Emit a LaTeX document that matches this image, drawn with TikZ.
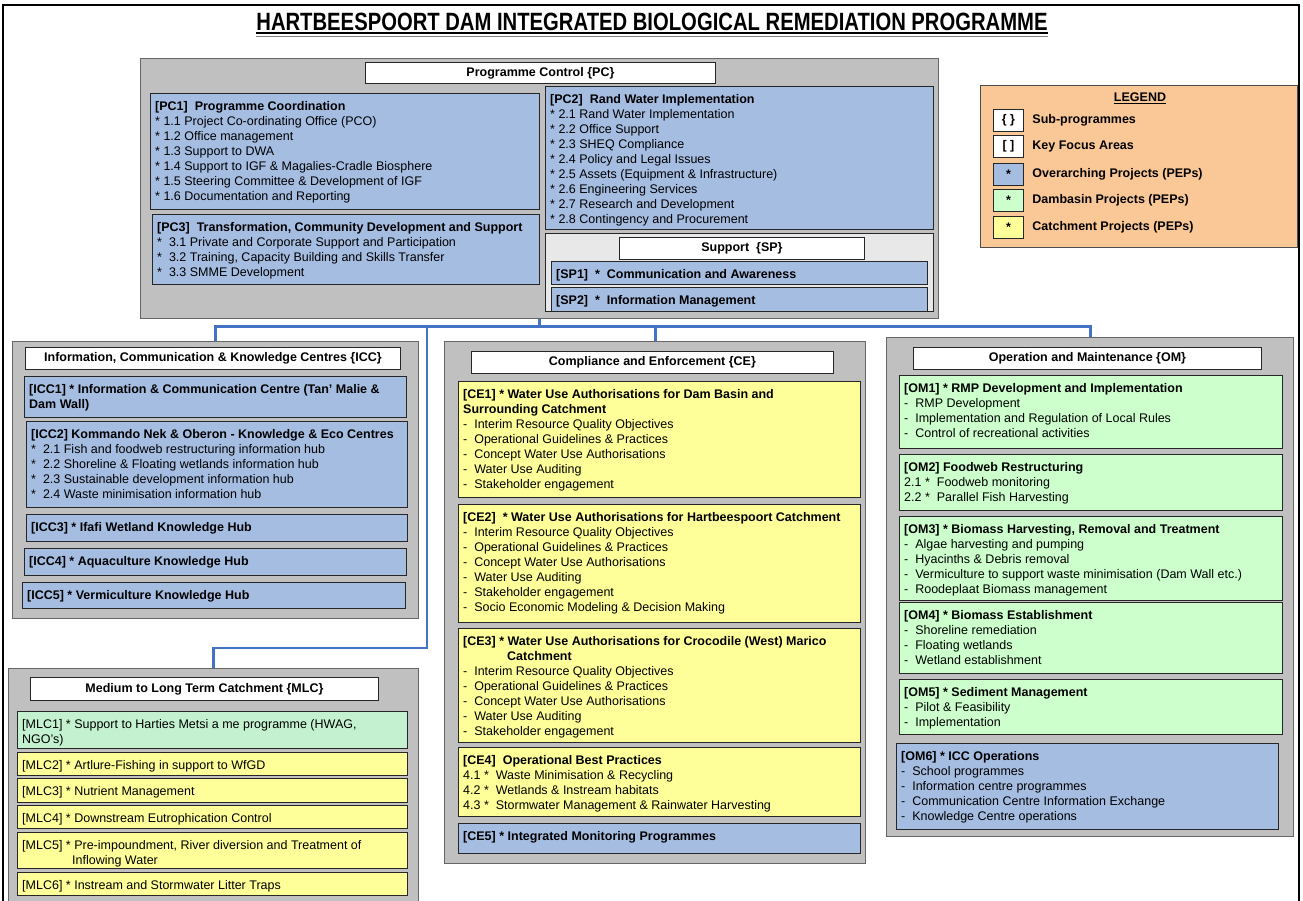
\documentclass[tikz,border=0pt]{standalone}
\usepackage{fontspec}
\setmainfont{Liberation Sans}
\usetikzlibrary{calc}
\usepackage{xcolor}

\definecolor{progrey}{RGB}{192,192,192}
\definecolor{spgrey}{RGB}{232,232,232}
\definecolor{kfablue}{RGB}{166,189,226}
\definecolor{kfagreen}{RGB}{204,255,204}
\definecolor{mlcgreen}{RGB}{196,242,208}
\definecolor{kfayellow}{RGB}{255,255,153}
\definecolor{legendpeach}{RGB}{250,200,150}
\definecolor{linkblue}{RGB}{68,114,196}

\begin{document}
\begin{tikzpicture}[x=1pt, y=-1pt, font=\fontsize{12.5}{15}\selectfont,
  prog/.style={draw=black!60, line width=1.3pt, fill=progrey, anchor=north west, inner sep=0pt},
  head/.style={draw=black!85, line width=0.9pt, fill=white, anchor=north west, inner sep=0pt, font=\fontsize{12.5}{15}\selectfont\bfseries},
  kfa/.style={draw=black!85, line width=0.9pt, fill=#1, anchor=north west, inner sep=0pt},
  wh/.style 2 args={minimum width=#1pt, minimum height=#2pt},
  txt/.style={anchor=north west, align=left, inner xsep=5pt, inner ysep=8pt},
  boldtxt/.style={font=\fontsize{12.5}{15}\selectfont\bfseries},
  link/.style={draw=linkblue, line width=2.8pt},
]
\useasboundingbox (0,0) rectangle (1303,900);
\clip (0,0) rectangle (1303,900);
\fill[white] (0,0) rectangle (1303,900);
\draw[line width=1.5pt] (3,905) -- (3,5) -- (1299,5) -- (1299,905);

% title
\node[anchor=base, inner sep=0pt, font=\fontsize{25}{30}\selectfont\bfseries] (title) at (652,30)
  {\scalebox{0.81}[1]{HARTBEESPOORT DAM INTEGRATED BIOLOGICAL REMEDIATION PROGRAMME}};
\draw[line width=1.6pt] ([yshift=-3pt]title.base west) -- ([yshift=-3pt]title.base east);
\draw[black!50, line width=1pt] ([yshift=-6.5pt]title.base west) -- ([yshift=-6.5pt]title.base east);

% programme control
\node[prog, wh={798}{260}] (pc) at (140,58) {};
\node[head, wh={350}{21}] (pc-head) at (365,62) {Programme Control \{PC\}};
\node[kfa=kfablue, wh={389}{116}] (pc1) at (150,93) {};
\node[txt] (pc1-t) at (pc1.north west) {\textbf{[PC1]\ \ Programme Coordination}\\
  * 1.1 Project Co-ordinating Office (PCO)\\
  * 1.2 Office management\\
  * 1.3 Support to DWA\\
  * 1.4 Support to IGF \& Magalies-Cradle Biosphere\\
  * 1.5 Steering Committee \& Development of IGF\\
  * 1.6 Documentation and Reporting};
\node[kfa=kfablue, wh={387}{70}] (pc3) at (152,214) {};
\node[txt] (pc3-t) at (pc3.north west) {\textbf{[PC3]\ \ Transformation, Community Development and Support}\\
  *\ \ 3.1 Private and Corporate Support and Participation\\
  *\ \ 3.2 Training, Capacity Building and Skills Transfer\\
  *\ \ 3.3 SMME Development};
\node[kfa=kfablue, wh={388}{143}] (pc2) at (545,86) {};
\node[txt] (pc2-t) at (pc2.north west) {\textbf{[PC2]\ \ Rand Water Implementation}\\
  * 2.1 Rand Water Implementation\\
  * 2.2 Office Support\\
  * 2.3 SHEQ Compliance\\
  * 2.4 Policy and Legal Issues\\
  * 2.5 Assets (Equipment \& Infrastructure)\\
  * 2.6 Engineering Services\\
  * 2.7 Research and Development\\
  * 2.8 Contingency and Procurement};
\node[kfa=spgrey, wh={388}{78}] (sp) at (545,233) {};
\node[head, wh={245}{22}] (sp-head) at (619,237) {Support\ \ \{SP\}};
\node[kfa=kfablue, wh={376}{23}] (sp1) at (551,261) {};
\node[txt, boldtxt] (sp1-t) at (sp1.north west) {[SP1]\ \ *\ \ Communication and Awareness};
\node[kfa=kfablue, wh={376}{24}] (sp2) at (551,287) {};
\node[txt, boldtxt] (sp2-t) at (sp2.north west) {[SP2]\ \ *\ \ Information Management};

% legend
\node[kfa=legendpeach, draw=black!70, wh={317}{162}] (legend) at (980,85) {};
\node[boldtxt] (legend-t) at (1140,98) {\underline{LEGEND}};
\foreach \y/\c/\s/\l [count=\i] in {109/white/{\{\ \}}/Sub-programmes,
    135/white/{[\ ]}/Key Focus Areas,
    163/kfablue/*/Overarching Projects (PEPs),
    189/kfagreen/*/Dambasin Projects (PEPs),
    216/kfayellow/*/Catchment Projects (PEPs)}
{
  \node[kfa=\c, wh={30}{22}, boldtxt] (sw\i) at (993,\y) {\s};
  \node[anchor=west, boldtxt] (sl\i) at ([xshift=5pt]sw\i.east) {\l};
}

% information, communication & knowledge centres
\node[prog, wh={406}{277}] (icc) at (12,341) {};
\node[head, wh={375}{22}] (icc-head) at (25,347) {Information, Communication \& Knowledge Centres \{ICC\}};
\node[kfa=kfablue, wh={382}{41}] (icc1) at (24,376) {};
\node[txt, boldtxt] (icc1-t) at (icc1.north west) {[ICC1] * Information \& Communication Centre (Tan' Malie \&\\Dam Wall)};
\node[kfa=kfablue, wh={381}{86}] (icc2) at (26,421) {};
\node[txt] (icc2-t) at (icc2.north west) {\textbf{[ICC2] Kommando Nek \& Oberon - Knowledge \& Eco Centres}\\
  *\ \ 2.1 Fish and foodweb restructuring information hub\\
  *\ \ 2.2 Shoreline \& Floating wetlands information hub\\
  *\ \ 2.3 Sustainable development information hub\\
  *\ \ 2.4 Waste minimisation information hub};
\node[kfa=kfablue, wh={381}{27}] (icc3) at (26,514) {};
\node[txt, boldtxt] (icc3-t) at (icc3.north west) {[ICC3] * Ifafi Wetland Knowledge Hub};
\node[kfa=kfablue, wh={382}{27}] (icc4) at (24,548) {};
\node[txt, boldtxt] (icc4-t) at (icc4.north west) {[ICC4] * Aquaculture Knowledge Hub};
\node[kfa=kfablue, wh={383}{26}] (icc5) at (22,582) {};
\node[txt, boldtxt] (icc5-t) at (icc5.north west) {[ICC5] * Vermiculture Knowledge Hub};

% compliance and enforcement
\node[prog, wh={421}{522}] (ce) at (444,341) {};
\node[head, wh={362}{22}] (ce-head) at (471,351) {Compliance and Enforcement \{CE\}};
\node[kfa=kfayellow, wh={402}{116}] (ce1) at (458,381) {};
\node[txt] (ce1-t) at (ce1.north west) {\textbf{[CE1] * Water Use Authorisations for Dam Basin and}\\
  \textbf{Surrounding Catchment}\\
  -\ \ Interim Resource Quality Objectives\\
  -\ \ Operational Guidelines \& Practices\\
  -\ \ Concept Water Use Authorisations\\
  -\ \ Water Use Auditing\\
  -\ \ Stakeholder engagement};
\node[kfa=kfayellow, wh={402}{118}] (ce2) at (458,504) {};
\node[txt] (ce2-t) at (ce2.north west) {\textbf{[CE2]\ \ * Water Use Authorisations for Hartbeespoort Catchment}\\
  -\ \ Interim Resource Quality Objectives\\
  -\ \ Operational Guidelines \& Practices\\
  -\ \ Concept Water Use Authorisations\\
  -\ \ Water Use Auditing\\
  -\ \ Stakeholder engagement\\
  -\ \ Socio Economic Modeling \& Decision Making};
\node[kfa=kfayellow, wh={402}{114}] (ce3) at (458,628) {};
\node[txt] (ce3-t) at (ce3.north west) {\textbf{[CE3] * Water Use Authorisations for Crocodile (West) Marico}\\
  \hspace*{44pt}\textbf{Catchment}\\
  -\ \ Interim Resource Quality Objectives\\
  -\ \ Operational Guidelines \& Practices\\
  -\ \ Concept Water Use Authorisations\\
  -\ \ Water Use Auditing\\
  -\ \ Stakeholder engagement};
\node[kfa=kfayellow, wh={402}{69}] (ce4) at (458,747) {};
\node[txt] (ce4-t) at (ce4.north west) {\textbf{[CE4]\ \ Operational Best Practices}\\
  4.1 *\ \ Waste Minimisation \& Recycling\\
  4.2 *\ \ Wetlands \& Instream habitats\\
  4.3 *\ \ Stormwater Management \& Rainwater Harvesting};
\node[kfa=kfablue, wh={402}{30}] (ce5) at (458,823) {};
\node[txt, boldtxt] (ce5-t) at (ce5.north west) {[CE5] * Integrated Monitoring Programmes};

% operation and maintenance
\node[prog, wh={407}{499}] (om) at (886,337) {};
\node[head, wh={348}{22}] (om-head) at (913,347) {Operation and Maintenance \{OM\}};
\node[kfa=kfagreen, wh={383}{73}] (om1) at (899,375) {};
\node[txt] (om1-t) at (om1.north west) {\textbf{[OM1] * RMP Development and Implementation}\\
  -\ \ RMP Development\\
  -\ \ Implementation and Regulation of Local Rules\\
  -\ \ Control of recreational activities};
\node[kfa=kfagreen, wh={383}{56}] (om2) at (899,454) {};
\node[txt] (om2-t) at (om2.north west) {\textbf{[OM2] Foodweb Restructuring}\\
  2.1 *\ \ Foodweb monitoring\\
  2.2 *\ \ Parallel Fish Harvesting};
\node[kfa=kfagreen, wh={383}{84}] (om3) at (899,516) {};
\node[txt] (om3-t) at (om3.north west) {\textbf{[OM3] * Biomass Harvesting, Removal and Treatment}\\
  -\ \ Algae harvesting and pumping\\
  -\ \ Hyacinths \& Debris removal\\
  -\ \ Vermiculture to support waste minimisation (Dam Wall etc.)\\
  -\ \ Roodeplaat Biomass management};
\node[kfa=kfagreen, wh={383}{71}] (om4) at (899,602) {};
\node[txt] (om4-t) at (om4.north west) {\textbf{[OM4] * Biomass Establishment}\\
  -\ \ Shoreline remediation\\
  -\ \ Floating wetlands\\
  -\ \ Wetland establishment};
\node[kfa=kfagreen, wh={383}{55}] (om5) at (899,679) {};
\node[txt] (om5-t) at (om5.north west) {\textbf{[OM5] * Sediment Management}\\
  -\ \ Pilot \& Feasibility\\
  -\ \ Implementation};
\node[kfa=kfablue, wh={382}{86}] (om6) at (896,743) {};
\node[txt] (om6-t) at (om6.north west) {\textbf{[OM6] * ICC Operations}\\
  -\ \ School programmes\\
  -\ \ Information centre programmes\\
  -\ \ Communication Centre Information Exchange\\
  -\ \ Knowledge Centre operations};

% medium to long term catchment
\node[prog, wh={410}{240}] (mlc) at (8,668) {};
\node[head, wh={348}{23}] (mlc-head) at (30,677) {Medium to Long Term Catchment \{MLC\}};
\node[kfa=mlcgreen, wh={390}{37}] (mlc1) at (17,711) {};
\node[txt] (mlc1-t) at (mlc1.north west) {[MLC1] * Support to Harties Metsi a me programme (HWAG,\\NGO's)};
\node[kfa=kfayellow, wh={390}{23}] (mlc2) at (17,752) {};
\node[txt] (mlc2-t) at (mlc2.north west) {[MLC2] * Artlure-Fishing in support to WfGD};
\node[kfa=kfayellow, wh={390}{24}] (mlc3) at (17,778) {};
\node[txt] (mlc3-t) at (mlc3.north west) {[MLC3] * Nutrient Management};
\node[kfa=kfayellow, wh={390}{23}] (mlc4) at (17,805) {};
\node[txt] (mlc4-t) at (mlc4.north west) {[MLC4] * Downstream Eutrophication Control};
\node[kfa=kfayellow, wh={390}{36}] (mlc5) at (17,832) {};
\node[txt] (mlc5-t) at (mlc5.north west) {[MLC5] * Pre-impoundment, River diversion and Treatment of\\
  \hspace*{50pt}Inflowing Water};
\node[kfa=kfayellow, wh={390}{23}] (mlc6) at (17,872) {};
\node[txt] (mlc6-t) at (mlc6.north west) {[MLC6] * Instream and Stormwater Litter Traps};

% connectors
\path (pc.south) ++(0,7) coordinate (hub);
\coordinate (drop) at (427,0);
\draw[link] (pc.south) -- (hub);
\draw[link] (icc.north) |- (hub) -| (om.north);
\draw[link] (hub -| ce.north) -- (ce.north);
\draw[link] (mlc.north) -- ++(0,-20) -| (hub -| drop);
\end{tikzpicture}
\end{document}
